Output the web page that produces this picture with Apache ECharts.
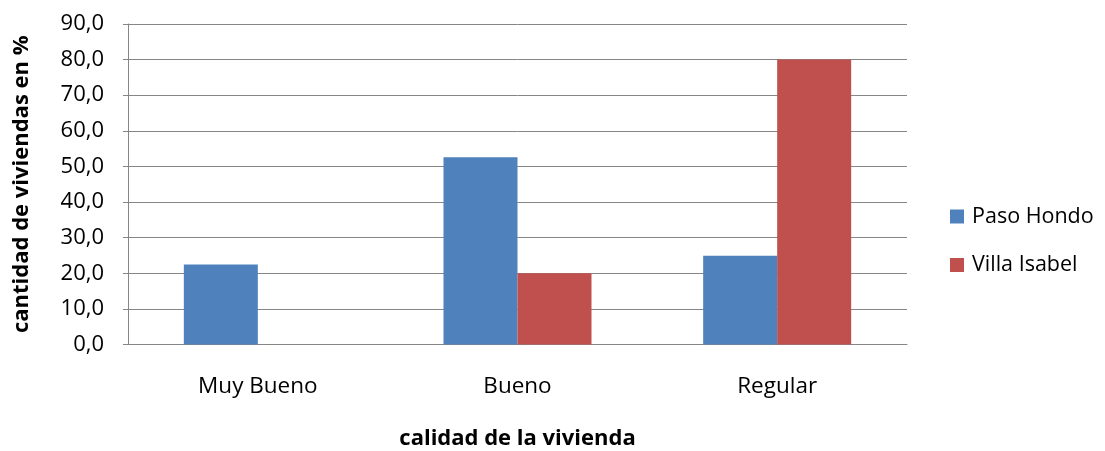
<!DOCTYPE html>
<html><head><meta charset="utf-8">
<script src="https://cdn.jsdelivr.net/npm/echarts@6/dist/echarts.min.js"></script>
<style>html,body{margin:0;padding:0;background:#fff}#c{width:1105px;height:451px}</style>
</head><body><div id="c"></div>
<script>
var categories = ['Muy Bueno', 'Bueno', 'Regular'];
var seriesNames = ['Paso Hondo', 'Villa Isabel'];
var pasoHondo = [22.5, 52.6, 24.9];
var villaIsabel = [null, 20.0, 80.0];
var yTicks = {min: 0, max: 90, interval: 10};

var chart = echarts.init(document.getElementById('c'), null, {renderer: 'canvas'});
var font = 'Open Sans';
chart.setOption({
  animation: false,
  color: ['#4F81BD', '#C0504D'],
  grid: {left: 128, right: 198, top: 24, bottom: 106.5, containLabel: false, outerBoundsMode: 'none'},
  legend: {
    orient: 'vertical', left: 950, top: 205.5, padding: 0,
    itemWidth: 14, itemHeight: 14, itemGap: 26.5,
    icon: 'rect',
    data: seriesNames,
    textStyle: {fontFamily: font, fontSize: 21.5, color: '#000', lineHeight: 22, padding: [0,0,0,3]}
  },
  xAxis: {
    type: 'category', data: categories,
    axisLine: {lineStyle: {color: '#868686', width: 1}},
    axisTick: {show: false},
    axisLabel: {fontFamily: font, fontSize: 22.5, color: '#000', margin: 31},
    name: 'calidad de la vivienda', nameLocation: 'middle', nameGap: 83,
    nameTextStyle: {fontFamily: font, fontWeight: 'bold', fontSize: 22, color: '#000'}
  },
  yAxis: {
    type: 'value', min: yTicks.min, max: yTicks.max, interval: yTicks.interval,
    axisLine: {show: true, lineStyle: {color: '#868686', width: 1}},
    axisTick: {show: true, length: 5, lineStyle: {color: '#868686'}},
    splitLine: {lineStyle: {color: '#868686', width: 1}},
    axisLabel: {fontFamily: font, fontSize: 22, color: '#000', margin: 24,
      formatter: function (v) { return v.toFixed(1).replace('.', ','); }},
    name: 'cantidad de viviendas en %', nameLocation: 'middle', nameGap: 95,
    nameTextStyle: {fontFamily: font, fontWeight: 'bold', fontSize: 22, color: '#000'}
  },
  series: [
    {name: seriesNames[0], type: 'bar', data: pasoHondo, barGap: '0%', barCategoryGap: '43%'},
    {name: seriesNames[1], type: 'bar', data: villaIsabel, barGap: '0%', barCategoryGap: '43%'}
  ]
});
</script></body></html>
